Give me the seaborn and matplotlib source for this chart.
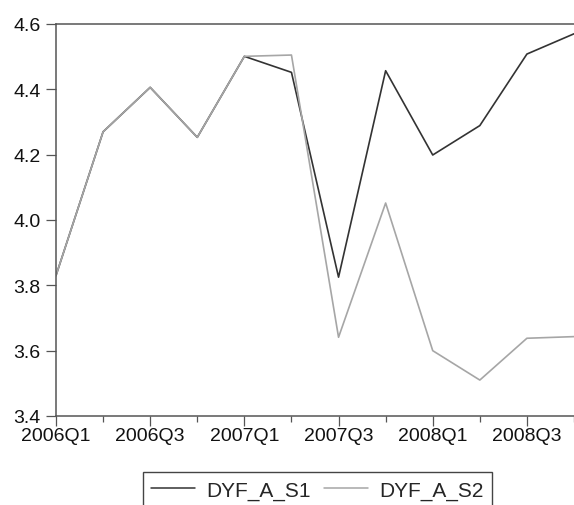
import numpy as np
import pandas as pd
import matplotlib
matplotlib.use("Agg")
import matplotlib.pyplot as plt
import seaborn as sns
from matplotlib.lines import Line2D

quarters = ["2006Q1", "2006Q2", "2006Q3", "2006Q4",
            "2007Q1", "2007Q2", "2007Q3", "2007Q4",
            "2008Q1", "2008Q2", "2008Q3", "2008Q4"]
s1 = [3.83, 4.27, 4.406, 4.253, 4.501, 4.452, 3.825, 4.457, 4.199, 4.289, 4.508, 4.57]
s2 = [3.83, 4.27, 4.406, 4.253, 4.501, 4.505, 3.641, 4.052, 3.600, 3.510, 3.638, 3.643]
series_names = ["DYF_A_S1", "DYF_A_S2"]
tick_labels = ["2006Q1", "2006Q3", "2007Q1", "2007Q3", "2008Q1", "2008Q3"]
y_ticks = [3.4, 3.6, 3.8, 4.0, 4.2, 4.4, 4.6]

sns.set_theme(style="white")
plt.rcParams["font.family"] = ["Liberation Sans", "DejaVu Sans"]

pos = {q: i for i, q in enumerate(quarters)}
df = pd.DataFrame({
    "x": [pos[q] for q in quarters] * 2,
    "value": s1 + s2,
    "series": [series_names[0]] * len(s1) + [series_names[1]] * len(s2),
})

fig = plt.figure(figsize=(5.74, 5.06), dpi=100)
ax = fig.add_axes([56 / 574, 1 - 417 / 506, (574 - 56) / 574, (417 - 25) / 506])

colors = {series_names[0]: "#333333", series_names[1]: "#a6a6a6"}
sns.lineplot(data=df, x="x", y="value", hue="series", hue_order=series_names,
             palette=colors, linewidth=1.2, ax=ax, legend=False)

ax.set_xlim(0, 10.86)
ax.set_ylim(3.4, 4.6)
ax.set_xticks([pos[q] for q in tick_labels])
ax.set_xticklabels(tick_labels)
ax.set_xticks([i for i in range(len(quarters)) if quarters[i] not in tick_labels], minor=True)
ax.set_yticks(y_ticks)
ax.set_yticklabels([f"{v:.1f}" for v in y_ticks])
ax.set_xlabel("")
ax.set_ylabel("")

for side in ["left", "bottom", "top"]:
    ax.spines[side].set_color("#555555")
    ax.spines[side].set_linewidth(1.1)
ax.spines["right"].set_visible(False)

ax.tick_params(axis="both", which="major", direction="out", width=0.9,
               color="#555555", labelsize=14, labelcolor="#111111")
ax.tick_params(axis="y", which="major", left=True, length=7, pad=4)
ax.tick_params(axis="x", which="major", bottom=True, length=7, pad=1)
ax.tick_params(axis="x", which="minor", direction="out", length=4, width=0.9,
               color="#555555", bottom=True)

handles = [Line2D([], [], color=colors[series_names[0]], lw=1.1),
           Line2D([], [], color=colors[series_names[1]], lw=1.1)]
leg = fig.legend(handles, series_names, loc="upper center",
                 bbox_to_anchor=(317.5 / 574, 1 - 473 / 506), ncol=2,
                 fontsize=15, frameon=True, fancybox=False, shadow=False,
                 handlelength=2.1, handletextpad=0.55, columnspacing=0.65,
                 borderpad=0.4, borderaxespad=0)
leg.get_frame().set_edgecolor("#444444")
leg.get_frame().set_linewidth(1.0)
leg.get_frame().set_alpha(1)

fig.savefig("out.png", dpi=100)
